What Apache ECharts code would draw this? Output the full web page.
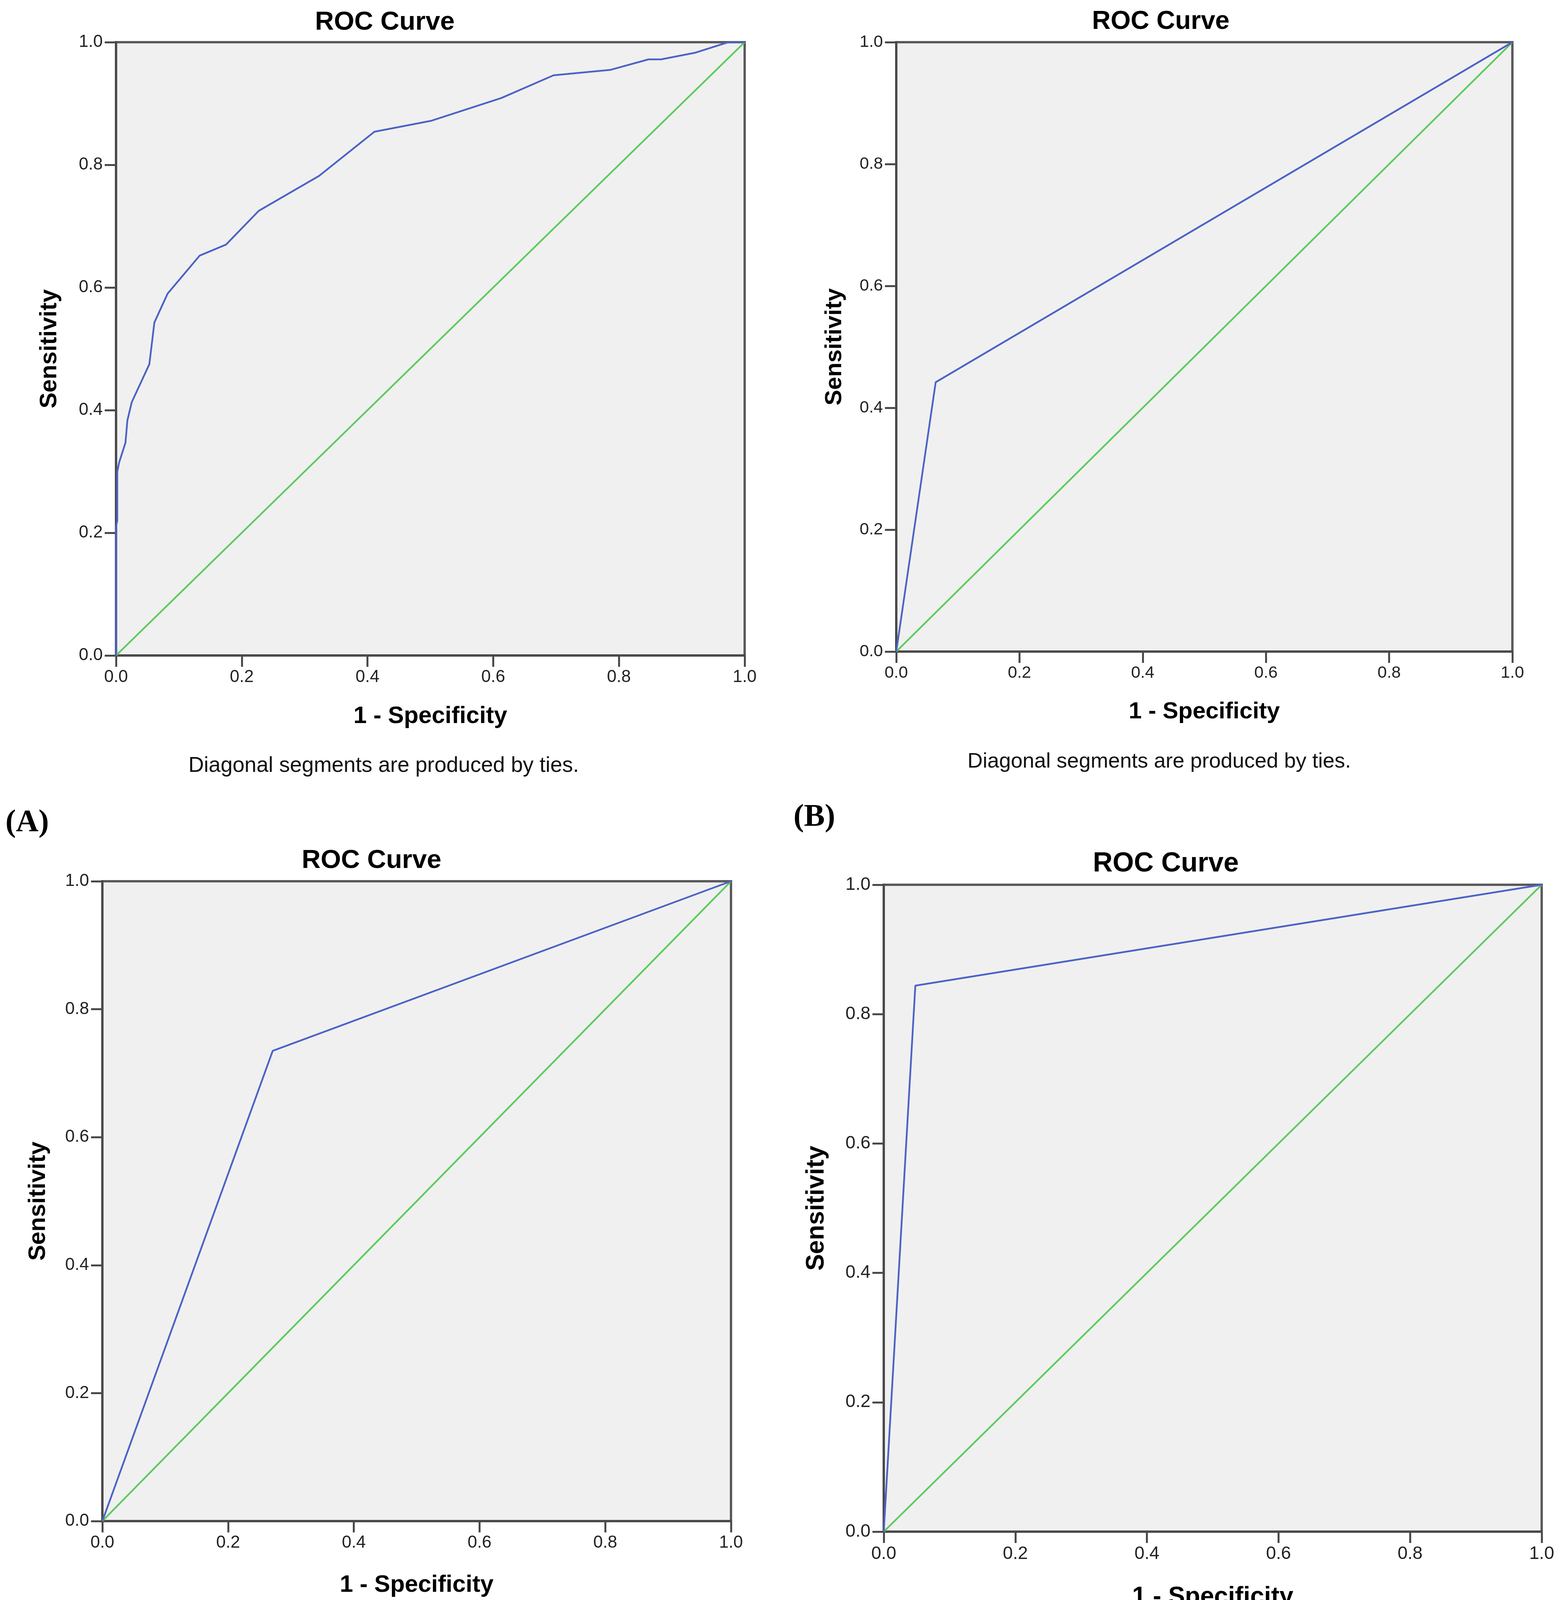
<!DOCTYPE html>
<html>
<head>
<meta charset="utf-8">
<script src="https://cdn.jsdelivr.net/npm/echarts@6/dist/echarts.min.js"></script>
<style>
  html, body { margin: 0; padding: 0; background: #fff; }
  #roc { width: 3998px; height: 4419px; }
</style>
</head>
<body>
<div id="roc"></div>
<script>
// panel A: ROC points (1 - specificity, sensitivity)
var fprA = [0, 0, 0.002, 0.002, 0.005, 0.015, 0.018, 0.025, 0.053, 0.061, 0.082, 0.133, 0.175, 0.227, 0.323, 0.411, 0.502, 0.613, 0.696, 0.787, 0.847, 0.867, 0.922, 0.974, 1];
var tprA = [0, 0.21, 0.22, 0.30, 0.315, 0.347, 0.383, 0.413, 0.475, 0.543, 0.59, 0.652, 0.67, 0.725, 0.782, 0.854, 0.872, 0.909, 0.946, 0.955, 0.972, 0.972, 0.983, 1, 1];
// panel B
var fprB = [0, 0.064, 1];
var tprB = [0, 0.442, 1];
// panel C
var fprC = [0, 0.271, 1];
var tprC = [0, 0.735, 1];
// panel D
var fprD = [0, 0.048, 1];
var tprD = [0, 0.844, 1];
// reference diagonal
var refX = [0, 1];
var refY = [0, 1];

var titleText = 'ROC Curve';
var xName = '1 - Specificity';
var yName = 'Sensitivity';
var noteText = 'Diagonal segments are produced by ties.';
var panelNames = ['(A)', '(B)', '(C)', '(D)'];

// layout of the four panels (pixels)
var panels = [
  { fpr: fprA, tpr: tprA, left: 297, top: 108, width: 1609, height: 1570, k: 1,
    titleX: 985, titleY: 58, xGap: 126, yGap: 139, noteX: 982, noteY: 1961, labX: 14, labY: 2107 },
  { fpr: fprB, tpr: tprB, left: 2294, top: 108, width: 1577, height: 1560, k: 0.98,
    titleX: 2971, titleY: 56, xGap: 124, yGap: 128, noteX: 2967, noteY: 1950, labX: 2031, labY: 2093 },
  { fpr: fprC, tpr: tprC, left: 262, top: 2256, width: 1609, height: 1638, k: 1,
    titleX: 951, titleY: 2204, xGap: 134, yGap: 133, noteX: 948, noteY: 4196, labX: 14, labY: 4313 },
  { fpr: fprD, tpr: tprD, left: 2262, top: 2265, width: 1684, height: 1656, k: 1.05,
    titleX: 2984, titleY: 2212, xGap: 136, yGap: 140, noteX: 2983, noteY: 4227, labX: 2031, labY: 4361 }
];

function pairs(xs, ys) {
  return xs.map(function (x, i) { return [x, ys[i]]; });
}

var sans = '"Liberation Sans", Arial, sans-serif';
var axisColor = '#4a4a4a';

var grids = [], xAxes = [], yAxes = [], series = [], titles = [], graphics = [];

panels.forEach(function (p, i) {
  var tickSize = Math.round(44 * p.k);
  var nameSize = Math.round(61 * p.k);

  grids.push({
    left: p.left, top: p.top, width: p.width, height: p.height,
    show: true, backgroundColor: '#f0f0f0', borderColor: '#5a5a5a', borderWidth: 6
  });

  var axisBase = {
    gridIndex: i,
    type: 'value',
    min: 0,
    max: 1,
    interval: 0.2,
    nameLocation: 'middle',
    nameTextStyle: { fontFamily: sans, fontWeight: 'bold', fontSize: nameSize, color: '#000' },
    axisLine: { show: true, onZero: false, lineStyle: { color: axisColor, width: 6 } },
    axisTick: { show: true, inside: false, length: 29, lineStyle: { color: axisColor, width: 5 } },
    splitLine: { show: false },
    axisLabel: {
      margin: 34, fontFamily: sans, fontSize: tickSize, color: '#222',
      formatter: function (v) { return v.toFixed(1); }
    }
  };

  xAxes.push(Object.assign({}, axisBase, { name: xName, nameGap: p.xGap }));
  yAxes.push(Object.assign({}, axisBase, { name: yName, nameGap: p.yGap }));

  series.push({
    type: 'line', xAxisIndex: i, yAxisIndex: i,
    data: pairs(refX, refY),
    symbol: 'none', silent: true,
    lineStyle: { color: '#5ccb5c', width: 4.5 }
  });
  series.push({
    type: 'line', xAxisIndex: i, yAxisIndex: i,
    data: pairs(p.fpr, p.tpr),
    symbol: 'none', silent: true,
    lineStyle: { color: '#4b63c6', width: 4.5 }
  });

  var titleSize = Math.round(67 * p.k);
  titles.push({
    text: titleText,
    left: p.titleX,
    top: p.titleY - titleSize / 2,
    textAlign: 'center',
    padding: 0,
    textStyle: { fontFamily: sans, fontWeight: 'bold', fontSize: titleSize, color: '#000' }
  });

  graphics.push({
    type: 'text', x: p.noteX, y: p.noteY,
    style: {
      text: noteText, fill: '#111',
      font: Math.round(55 * p.k) + 'px ' + sans,
      align: 'center', verticalAlign: 'middle'
    }
  });
  graphics.push({
    type: 'text', x: p.labX, y: p.labY,
    style: {
      text: panelNames[i], fill: '#000',
      font: 'bold 80px "Liberation Serif", "Times New Roman", serif',
      align: 'left', verticalAlign: 'middle'
    }
  });
});

var chart = echarts.init(document.getElementById('roc'), null, { renderer: 'canvas', devicePixelRatio: 1 });
chart.setOption({
  animation: false,
  backgroundColor: '#fff',
  title: titles,
  grid: grids,
  xAxis: xAxes,
  yAxis: yAxes,
  series: series,
  graphic: graphics
});
</script>
</body>
</html>
